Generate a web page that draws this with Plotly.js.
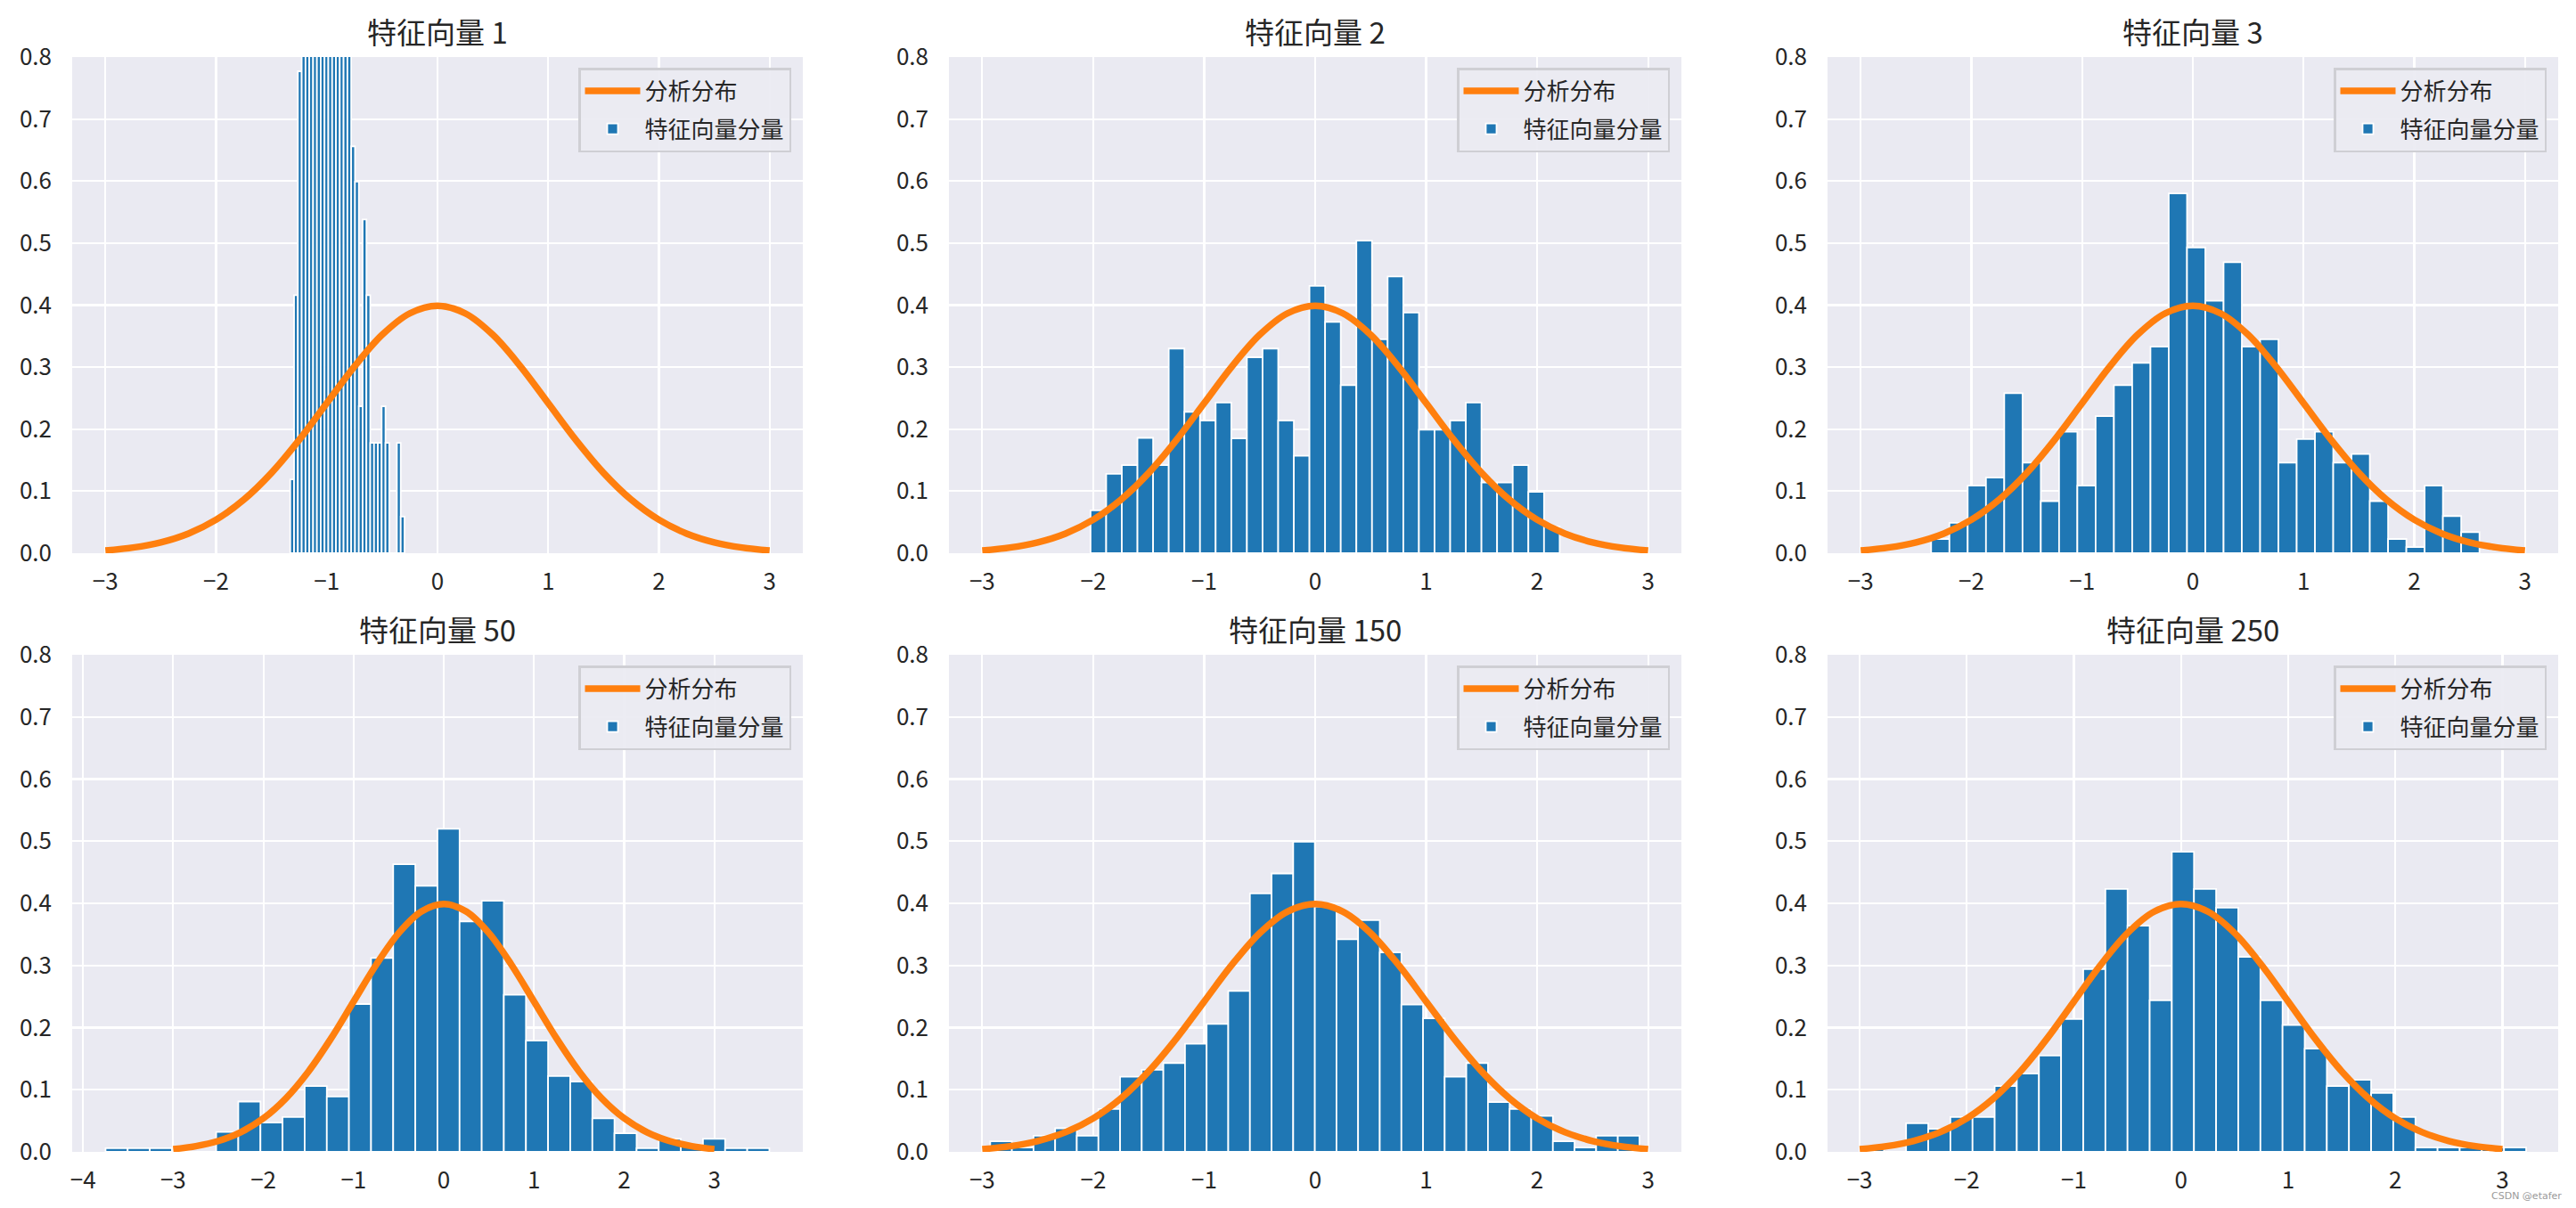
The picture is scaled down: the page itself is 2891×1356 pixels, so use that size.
<!DOCTYPE html>
<html>
<head>
<meta charset="utf-8">
<script src="https://cdn.plot.ly/plotly-3.0.1.min.js"></script>
<style>html,body{margin:0;padding:0;background:#fff;}#chart{width:2891px;height:1356px;}</style>
</head>
<body>
<div id="chart"></div>
<script>
// ---- data ----
var panelTitles = ["特征向量 1", "特征向量 2", "特征向量 3", "特征向量 50", "特征向量 150", "特征向量 250"];
var curveName = "分析分布";
var barName = "特征向量分量";

// analytic distribution (standard normal pdf), read at x = -3 ... 3
var curveX = [-3, -2.75, -2.5, -2.25, -2, -1.75, -1.5, -1.25, -1, -0.75, -0.5, -0.25, 0,
              0.25, 0.5, 0.75, 1, 1.25, 1.5, 1.75, 2, 2.25, 2.5, 2.75, 3];
var curveY = [0.0044, 0.0091, 0.0175, 0.0317, 0.0540, 0.0863, 0.1295, 0.1826, 0.2420, 0.3011, 0.3521, 0.3867, 0.3989,
              0.3867, 0.3521, 0.3011, 0.2420, 0.1826, 0.1295, 0.0863, 0.0540, 0.0317, 0.0175, 0.0091, 0.0044];

// histogram bins: first edge and bin width per panel (30 bins each)
var binStart = [-1.330, -2.024, -2.364, -3.750, -2.928, -2.980];
var binWidth = [0.0344, 0.1409, 0.1651, 0.2453, 0.1950, 0.2067];

var dens1 = [0.119, 0.416, 0.777, 1.05, 1.40, 1.75, 2.05, 2.30, 2.45, 2.50, 2.40, 2.20, 1.95, 1.65, 1.30, 0.95,
             0.656, 0.599, 0.237, 0.538, 0.416, 0.178, 0.178, 0.178, 0.237, 0.178, 0, 0, 0.178, 0.059];
var dens2 = [0.069, 0.128, 0.142, 0.186, 0.142, 0.330, 0.228, 0.214, 0.243, 0.185, 0.316, 0.330, 0.214, 0.157, 0.431,
             0.373, 0.271, 0.504, 0.345, 0.446, 0.388, 0.199, 0.199, 0.214, 0.243, 0.114, 0.114, 0.142, 0.099, 0.043];
var dens3 = [0.023, 0.049, 0.109, 0.122, 0.258, 0.146, 0.084, 0.196, 0.109, 0.221, 0.271, 0.307, 0.333, 0.580, 0.493,
             0.407, 0.469, 0.333, 0.345, 0.146, 0.184, 0.196, 0.146, 0.160, 0.084, 0.023, 0.010, 0.109, 0.060, 0.034];
var dens50 = [0.006, 0.006, 0.006, 0, 0, 0.032, 0.081, 0.047, 0.056, 0.106, 0.089, 0.238, 0.312, 0.463, 0.428,
              0.520, 0.371, 0.404, 0.253, 0.179, 0.122, 0.113, 0.054, 0.030, 0.006, 0.021, 0.012, 0.021, 0.006, 0.006];
var dens150 = [0.017, 0.007, 0.026, 0.038, 0.026, 0.069, 0.121, 0.132, 0.143, 0.174, 0.206, 0.259, 0.416, 0.448, 0.499,
               0.395, 0.342, 0.373, 0.321, 0.237, 0.215, 0.121, 0.143, 0.080, 0.069, 0.058, 0.017, 0.007, 0.026, 0.026];
var dens250 = [0.007, 0, 0.046, 0.037, 0.056, 0.056, 0.106, 0.126, 0.155, 0.214, 0.294, 0.423, 0.364, 0.244, 0.483,
               0.423, 0.393, 0.314, 0.244, 0.204, 0.166, 0.106, 0.116, 0.095, 0.056, 0.007, 0.007, 0.007, 0.007, 0.007];
var densities = [dens1, dens2, dens3, dens50, dens150, dens250];

var xRanges = [[-3.3, 3.3], [-3.3, 3.3], [-3.3, 3.3], [-4.12, 3.98], [-3.3, 3.3], [-3.3, 3.52]];
var xTicks = [-3, -2, -1, 0, 1, 2, 3];
var xTicks50 = [-4, -3, -2, -1, 0, 1, 2, 3];
var yTicks = [0, 0.1, 0.2, 0.3, 0.4, 0.5, 0.6, 0.7, 0.8];
var yRange = [0, 0.8];

// ---- layout geometry ----
var W = 2891, H = 1356;
var colPx = [[81, 901], [1065, 1887], [2051, 2871]];
var rowPx = [[64, 621], [735, 1293]];
var FONT = '"Noto Sans CJK SC", "Noto Sans", sans-serif';
var TXT = '#262626';

var traces = [];
var layout = {
  width: W, height: H,
  margin: {l: 0, r: 0, t: 0, b: 0, pad: 0},
  paper_bgcolor: '#ffffff',
  plot_bgcolor: '#EAEAF2',
  font: {family: FONT, size: 26, color: TXT},
  showlegend: true,
  hovermode: false,
  barmode: 'overlay',
  annotations: []
};

for (var i = 0; i < 6; i++) {
  var r = Math.floor(i / 3), c = i % 3;
  var n = i + 1;
  var xa = 'x' + (n === 1 ? '' : n), ya = 'y' + (n === 1 ? '' : n);
  var xk = 'xaxis' + (n === 1 ? '' : n), yk = 'yaxis' + (n === 1 ? '' : n);
  var lg = 'legend' + (n === 1 ? '' : n);
  var xd = [colPx[c][0] / W, colPx[c][1] / W];
  var yd = [1 - rowPx[r][1] / H, 1 - rowPx[r][0] / H];

  var centers = densities[i].map(function (v, k) { return binStart[i] + (k + 0.5) * binWidth[i]; });

  traces.push({
    type: 'scatter', mode: 'lines', x: curveX, y: curveY, xaxis: xa, yaxis: ya,
    name: curveName, legend: lg, legendgroup: 'a' + n,
    line: {color: '#ff7f0e', width: 7.5, shape: 'spline', smoothing: 1},
    hoverinfo: 'skip'
  });
  traces.push({
    type: 'bar', x: centers, y: densities[i], width: binWidth[i], xaxis: xa, yaxis: ya,
    name: barName, legend: lg, legendgroup: 'b' + n,
    marker: {color: '#1f77b4', line: {color: '#ffffff', width: 1.8}},
    hoverinfo: 'skip'
  });

  layout[xk] = {
    domain: xd, anchor: ya, range: xRanges[i],
    tickmode: 'array', tickvals: (i === 3 ? xTicks50 : xTicks),
    showgrid: true, gridcolor: '#ffffff', gridwidth: 2.2,
    zeroline: false, showline: false, ticks: '',
    ticklabelstandoff: 14,
    tickfont: {family: FONT, size: 26, color: TXT},
    fixedrange: true
  };
  layout[yk] = {
    domain: yd, anchor: xa, range: yRange,
    tickmode: 'array', tickvals: yTicks, tickformat: '.1f',
    showgrid: true, gridcolor: '#ffffff', gridwidth: 2.2,
    zeroline: false, showline: false, ticks: '',
    ticklabelstandoff: 22,
    tickfont: {family: FONT, size: 26, color: TXT},
    fixedrange: true
  };
  layout[lg] = {
    x: (colPx[c][1] - 13) / W, y: 1 - (rowPx[r][0] + 12) / H,
    xanchor: 'right', yanchor: 'top',
    bgcolor: 'rgba(234,234,242,0.92)', bordercolor: '#cfcfd4', borderwidth: 2.5,
    font: {family: FONT, size: 26, color: TXT},
    itemwidth: 62, tracegroupgap: 6, traceorder: 'grouped'
  };
  layout.annotations.push({
    text: panelTitles[i], xref: 'paper', yref: 'paper',
    x: (colPx[c][0] + colPx[c][1]) / 2 / W,
    y: 1 - (rowPx[r][0] - 29) / H,
    xanchor: 'center', yanchor: 'middle', showarrow: false,
    font: {family: FONT, size: 33, color: TXT}
  });
}

layout.annotations.push({
  text: 'CSDN @etafer', xref: 'paper', yref: 'paper',
  x: 2877 / W, y: 1 - 1342 / H, xanchor: 'right', yanchor: 'middle', showarrow: false,
  font: {family: '"DejaVu Sans", sans-serif', size: 11, color: '#9a9a9a'}
});

Plotly.newPlot('chart', traces, layout, {displayModeBar: false, staticPlot: true});
</script>
</body>
</html>
